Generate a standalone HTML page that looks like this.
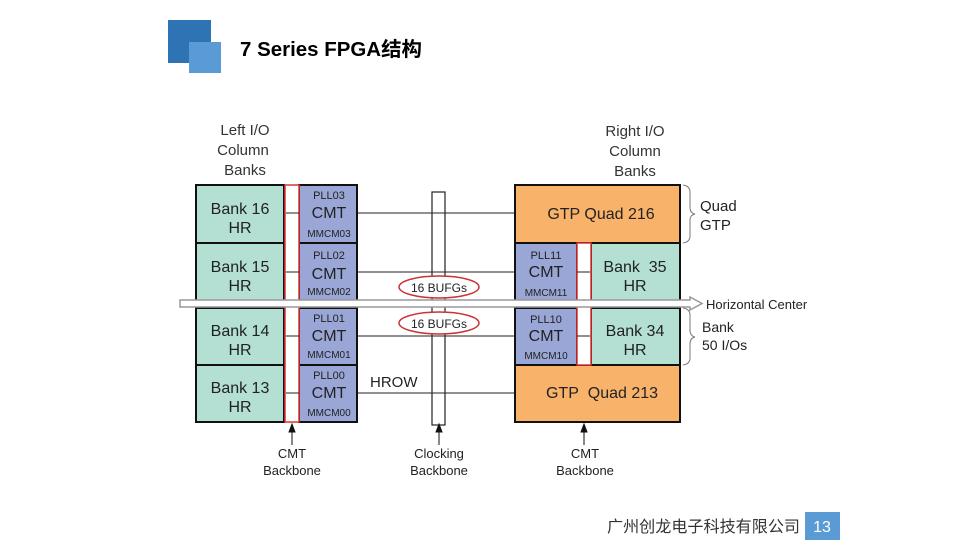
<!DOCTYPE html>
<html><head><meta charset="utf-8"><style>
body{margin:0;width:960px;height:540px;background:#fff;overflow:hidden;font-family:"Liberation Sans",sans-serif}
</style></head><body>
<svg width="960" height="540" xmlns="http://www.w3.org/2000/svg" font-family="Liberation Sans, sans-serif">
<rect x="168" y="20" width="43" height="43" fill="#2e74b5"/>
<rect x="189" y="42" width="32" height="31" fill="#5b9bd5"/>
<text x="240" y="56" font-size="20" font-weight="bold" font-family="Liberation Sans, Noto Sans CJK SC, sans-serif" fill="#000" textLength="182" lengthAdjust="spacingAndGlyphs">7 Series FPGA结构</text>

<g font-size="15" fill="#333" text-anchor="middle">
<text x="245" y="135">Left I/O</text><text x="243" y="155">Column</text><text x="245" y="175">Banks</text>
<text x="635" y="136">Right I/O</text><text x="635" y="156">Column</text><text x="635" y="176">Banks</text>
</g>

<rect x="432" y="192" width="13" height="233" fill="#fff" stroke="#222" stroke-width="1.2"/>
<g stroke="#222" stroke-width="1">
<line x1="357" y1="213" x2="515" y2="213"/>
<line x1="357" y1="272" x2="515" y2="272"/>
<line x1="357" y1="336" x2="515" y2="336"/>
<line x1="357" y1="393" x2="515" y2="393"/>
</g>

<g stroke="#111" stroke-width="2">
<rect x="196" y="185" width="88" height="58" fill="#b3e0d3"/>
<rect x="196" y="243" width="88" height="58" fill="#b3e0d3"/>
<rect x="196" y="308" width="88" height="57" fill="#b3e0d3"/>
<rect x="196" y="365" width="88" height="57" fill="#b3e0d3"/>
<rect x="299" y="185" width="58" height="58" fill="#99a6d6"/>
<rect x="299" y="243" width="58" height="58" fill="#99a6d6"/>
<rect x="299" y="308" width="58" height="57" fill="#99a6d6"/>
<rect x="299" y="365" width="58" height="57" fill="#99a6d6"/>
</g>
<rect x="285" y="185" width="14" height="237" fill="#fff" stroke="#d33" stroke-width="1.5"/>
<g stroke="#222" stroke-width="1"><line x1="286" y1="213" x2="299" y2="213"/><line x1="286" y1="272" x2="299" y2="272"/><line x1="286" y1="336" x2="299" y2="336"/><line x1="286" y1="393" x2="299" y2="393"/></g>
<g font-size="16" fill="#222" text-anchor="middle">
<text x="240" y="214">Bank 16</text><text x="240" y="233">HR</text>
<text x="240" y="272">Bank 15</text><text x="240" y="291">HR</text>
<text x="240" y="336">Bank 14</text><text x="240" y="355">HR</text>
<text x="240" y="393">Bank 13</text><text x="240" y="412">HR</text>
</g>
<g fill="#222" text-anchor="middle">
<text x="329" y="199" font-size="11">PLL03</text><text x="329" y="218" font-size="16">CMT</text><text x="329" y="237" font-size="10">MMCM03</text>
<text x="329" y="259" font-size="11">PLL02</text><text x="329" y="279" font-size="16">CMT</text><text x="329" y="295" font-size="10">MMCM02</text>
<text x="329" y="322" font-size="11">PLL01</text><text x="329" y="341" font-size="16">CMT</text><text x="329" y="358" font-size="10">MMCM01</text>
<text x="329" y="379" font-size="11">PLL00</text><text x="329" y="398" font-size="16">CMT</text><text x="329" y="416" font-size="10">MMCM00</text>
</g>
<text x="370" y="387" font-size="15" fill="#222">HROW</text>

<g stroke="#111" stroke-width="2">
<rect x="515" y="185" width="165" height="58" fill="#f9b26a"/>
<rect x="515" y="243" width="62" height="58" fill="#99a6d6"/>
<rect x="591" y="243" width="89" height="58" fill="#b3e0d3"/>
<rect x="515" y="308" width="62" height="57" fill="#99a6d6"/>
<rect x="591" y="308" width="89" height="57" fill="#b3e0d3"/>
<rect x="515" y="365" width="165" height="57" fill="#f9b26a"/>
</g>
<rect x="577" y="243" width="14" height="122" fill="#fff" stroke="#d33" stroke-width="1.5"/>
<g stroke="#222" stroke-width="1"><line x1="577" y1="272" x2="590" y2="272"/><line x1="577" y1="336" x2="590" y2="336"/></g>
<g font-size="16" fill="#222" text-anchor="middle">
<text x="601" y="219">GTP Quad 216</text>
<text x="635" y="272">Bank&#160; 35</text><text x="635" y="291">HR</text>
<text x="635" y="336">Bank 34</text><text x="635" y="355">HR</text>
<text x="602" y="398">GTP&#160; Quad 213</text>
</g>
<g fill="#222" text-anchor="middle">
<text x="546" y="259" font-size="11">PLL11</text><text x="546" y="277" font-size="16">CMT</text><text x="546" y="296" font-size="10">MMCM11</text>
<text x="546" y="323" font-size="11">PLL10</text><text x="546" y="341" font-size="16">CMT</text><text x="546" y="359" font-size="10">MMCM10</text>
</g>

<path d="M180 300 H690 V297 L702 303.5 L690 310 V307 H180 Z" fill="#fff" stroke="#999" stroke-width="1.5"/>
<rect x="432" y="301" width="13" height="5" fill="#fff"/>

<ellipse cx="439" cy="287" rx="40" ry="11" fill="#fff" stroke="#c33" stroke-width="1.5"/>
<text x="439" y="292" font-size="12" text-anchor="middle" fill="#222">16 BUFGs</text>
<ellipse cx="439" cy="323" rx="40" ry="11" fill="#fff" stroke="#c33" stroke-width="1.5"/>
<text x="439" y="328" font-size="12" text-anchor="middle" fill="#222">16 BUFGs</text>

<g fill="none" stroke="#777" stroke-width="1">
<path d="M683 185 Q690 186 690 192 V208 Q690 213 695 214 Q690 215 690 220 V236 Q690 242 683 243"/>
<path d="M683 308 Q690 309 690 315 V330 Q690 336 695 337 Q690 338 690 344 V358 Q690 364 683 365"/>
</g>
<g font-size="15" fill="#222">
<text x="700" y="211">Quad</text><text x="700" y="230">GTP</text>
<text x="706" y="309" font-size="13">Horizontal Center</text>
<text x="702" y="332" font-size="14">Bank</text><text x="702" y="350" font-size="14">50 I/Os</text>
</g>

<g stroke="#111" stroke-width="1" fill="#111">
<line x1="292" y1="445" x2="292" y2="430"/><path d="M289 432 L292 424 L295 432Z"/>
<line x1="439" y1="445" x2="439" y2="430"/><path d="M436 432 L439 424 L442 432Z"/>
<line x1="584" y1="445" x2="584" y2="430"/><path d="M581 432 L584 424 L587 432Z"/>
</g>
<g font-size="13" fill="#222" text-anchor="middle">
<text x="292" y="458">CMT</text><text x="292" y="475">Backbone</text>
<text x="439" y="458">Clocking</text><text x="439" y="475">Backbone</text>
<text x="585" y="458">CMT</text><text x="585" y="475">Backbone</text>
</g>

<text x="607" y="532" font-size="16" fill="#333" font-family="Liberation Sans, Noto Sans CJK SC, sans-serif" textLength="193" lengthAdjust="spacingAndGlyphs">广州创龙电子科技有限公司</text>
<rect x="805" y="512" width="35" height="28" fill="#5b9bd5"/>
<text x="822" y="532" font-size="16" fill="#fff" text-anchor="middle">13</text>
</svg>
</body></html>
